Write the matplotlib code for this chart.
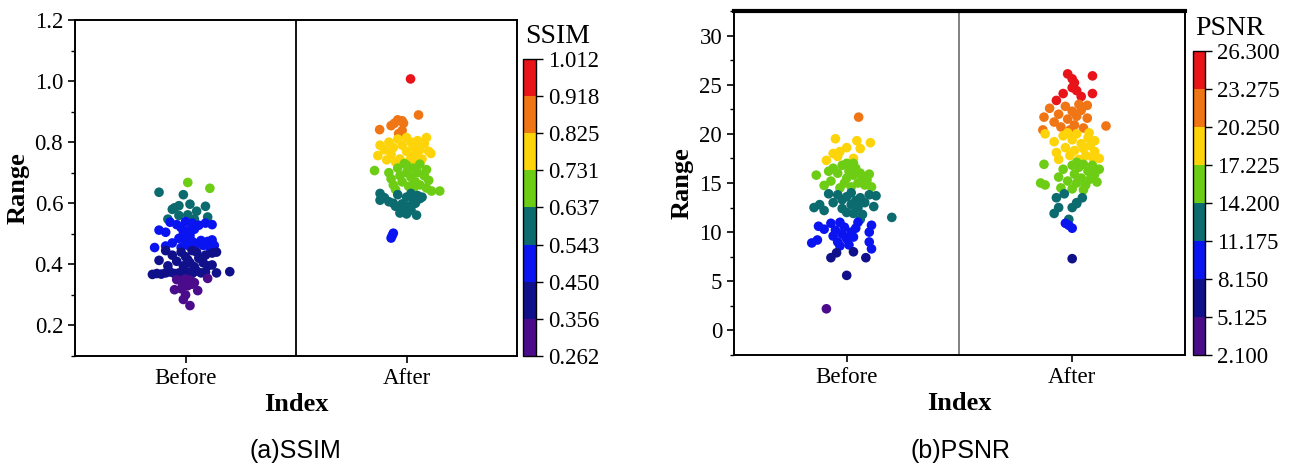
import numpy as np
import matplotlib
matplotlib.use("Agg")
import matplotlib.pyplot as plt
from matplotlib.colors import ListedColormap, BoundaryNorm

# 八段离散配色（紫 -> 红）
band_colors = ['#4b0c8c', '#10108a', '#0a14f0', '#0b6b6e',
               '#6ccd14', '#fdd40a', '#f07515', '#e8141a']
categories = ['Before', 'After']

# ---- SSIM 数据: (横向抖动, 数值) ----
ssim_before_off = [-0.12, 0.01, 0.11,
                   -0.01, -0.05, -0.03, 0.02, 0.05, 0.09, -0.08, -0.03, 0.01, 0.10, 0.04, -0.06,
                   -0.07, -0.12, -0.09, -0.04, 0.00, 0.03, 0.06, 0.09, 0.12, -0.02, 0.01, 0.04,
                   -0.01, 0.02, -0.03, 0.00, 0.03, 0.07, 0.10, 0.12, 0.08, 0.11, -0.14, -0.09,
                   -0.06, 0.00, 0.02, -0.02, 0.05, 0.12, 0.10, 0.13,
                   -0.15, -0.13, -0.11, -0.09, -0.07, -0.05, -0.03, -0.01, 0.01, 0.03, 0.05,
                   0.07, 0.09, 0.14, 0.20, -0.12, -0.08, -0.06, -0.04, -0.02, 0.00, 0.02, 0.04,
                   0.06, 0.08, 0.10, 0.12, 0.12, 0.09, 0.03, -0.01, 0.01, 0.05, 0.14, -0.09,
                   -0.04, -0.02, 0.00, 0.02, 0.04, 0.10, -0.05, -0.02, 0.01, 0.055, 0.00, -0.01,
                   0.02, 0.03]
ssim_before_val = [0.636, 0.668, 0.649,
                   0.628, 0.585, 0.592, 0.597, 0.574, 0.590, 0.548, 0.560, 0.562, 0.555, 0.548, 0.580,
                   0.538, 0.512, 0.505, 0.530, 0.540, 0.535, 0.528, 0.535, 0.530, 0.520, 0.510, 0.515,
                   0.500, 0.495, 0.485, 0.480, 0.475, 0.478, 0.475, 0.470, 0.462, 0.455, 0.455, 0.460,
                   0.470, 0.465, 0.458, 0.455, 0.468, 0.480, 0.465, 0.462,
                   0.367, 0.370, 0.368, 0.372, 0.375, 0.370, 0.372, 0.380, 0.375, 0.370, 0.378,
                   0.372, 0.375, 0.372, 0.376, 0.413, 0.395, 0.430, 0.410, 0.440, 0.425, 0.405, 0.392,
                   0.420, 0.405, 0.395, 0.398, 0.437, 0.430, 0.445, 0.395, 0.415, 0.440, 0.440, 0.445,
                   0.350, 0.345, 0.352, 0.348, 0.340, 0.354, 0.317, 0.320, 0.330, 0.314, 0.300, 0.285,
                   0.265, 0.335]

ssim_after_off = [0.018,
                  0.054, -0.122, -0.07, -0.055, -0.04, -0.02, -0.014, -0.036, -0.02,
                  -0.12, -0.13, -0.10, -0.08, -0.07, -0.06, -0.04, -0.03, -0.02, 0.00, 0.00, 0.02,
                  0.02, 0.03, 0.04, 0.05, 0.06, 0.07, 0.08, 0.09, 0.10, 0.11, -0.05, 0.04, -0.09, 0.01,
                  -0.145, -0.08, -0.07, -0.06, -0.04, -0.03, -0.02, 0.00, 0.00, 0.01, 0.02, 0.03,
                  0.04, 0.05, 0.06, 0.06, 0.08, 0.09, 0.10, 0.09, 0.113, 0.15, -0.05, 0.03, -0.01,
                  -0.12, -0.12, -0.10, -0.08, -0.06, -0.05, -0.03, -0.02, -0.01, 0.00, 0.01, 0.02,
                  0.03, 0.04, 0.05, 0.06, -0.04, 0.00, 0.045, -0.03, 0.02, 0.07,
                  -0.06, -0.07, -0.065]
ssim_after_val = [1.007,
                  0.889, 0.841, 0.854, 0.862, 0.873, 0.870, 0.862, 0.828, 0.838,
                  0.790, 0.756, 0.775, 0.800, 0.760, 0.782, 0.810, 0.745, 0.790, 0.770, 0.815, 0.800,
                  0.750, 0.785, 0.760, 0.805, 0.775, 0.745, 0.795, 0.815, 0.770, 0.763, 0.735, 0.738,
                  0.742, 0.735,
                  0.707, 0.700, 0.680, 0.660, 0.715, 0.690, 0.670, 0.725, 0.700, 0.655, 0.685, 0.715,
                  0.670, 0.700, 0.728, 0.660, 0.690, 0.710, 0.675, 0.650, 0.640, 0.640, 0.645, 0.645,
                  0.730,
                  0.632, 0.610, 0.618, 0.605, 0.600, 0.590, 0.585, 0.598, 0.575, 0.620, 0.590, 0.632,
                  0.612, 0.600, 0.625, 0.615, 0.628, 0.565, 0.561, 0.568, 0.578, 0.620,
                  0.502, 0.486, 0.494]

# ---- PSNR 数据 ----
psnr_before_off = [0.053,
                   -0.05, 0.00, -0.03, 0.045, 0.06, 0.105, -0.06, -0.09, -0.04, 0.03,
                   -0.135, -0.10, -0.07, -0.06, -0.04, -0.02, 0.00, 0.00, 0.01, 0.02, 0.03, 0.04,
                   0.05, 0.06, 0.07, 0.08, 0.09, 0.11, -0.03, 0.03, -0.08, 0.10, -0.01,
                   -0.145, -0.12, -0.10, -0.08, -0.06, -0.04, -0.02, -0.02, 0.00, 0.00, 0.02, 0.03,
                   0.04, 0.05, 0.06, 0.07, 0.08, 0.10, 0.12, 0.13, 0.20, 0.02, 0.06,
                   -0.125, -0.10, -0.155, -0.13, -0.07, -0.06, -0.05, -0.04, -0.03, -0.02, -0.01,
                   0.00, 0.01, 0.02, 0.03, 0.04, 0.05, 0.11, 0.10, 0.10, 0.11, -0.03,
                   -0.07, -0.045, 0.03, 0.085, 0.00,
                   -0.09]
psnr_before_val = [21.7,
                   19.5, 18.6, 18.2, 19.3, 18.5, 19.1, 18.0, 17.3, 17.7, 17.5,
                   15.8, 14.75, 15.2, 16.5, 16.0, 16.8, 17.0, 15.5, 16.2, 14.6, 15.8, 16.5,
                   15.0, 16.0, 15.5, 14.8, 15.3, 14.6, 14.5, 17.0, 16.2, 15.9, 15.0,
                   12.5, 12.8, 12.2, 13.9, 13.0, 13.8, 12.4, 13.3, 12.0, 13.6, 12.8, 11.9,
                   13.2, 12.5, 13.5, 11.8, 13.0, 13.8, 12.6, 13.7, 11.5, 14.0, 11.3,
                   10.6, 10.3, 8.9, 9.2, 10.9, 9.6, 10.2, 9.0, 11.0, 9.8, 10.5,
                   9.3, 8.7, 10.0, 9.5, 10.4, 11.0, 10.7, 10.0, 9.0, 8.3, 8.6,
                   7.4, 7.9, 8.0, 7.4, 5.6,
                   2.2]

psnr_after_off = [-0.02, 0.00, 0.09, 0.01, 0.00, 0.02, -0.04, 0.09, -0.07, 0.04,
                  -0.125, -0.13, -0.10, -0.08, -0.06, -0.05, -0.03, -0.02, 0.00, 0.01, 0.02, 0.03,
                  0.04, 0.05, 0.067, 0.067, 0.15, -0.01,
                  -0.12, -0.08, -0.07, -0.06, -0.04, -0.03, -0.01, 0.00, 0.01, 0.02, 0.03, 0.04,
                  0.05, 0.06, 0.07, 0.08, 0.09, 0.10, 0.12, 0.075, -0.02, 0.10,
                  -0.125, -0.14, -0.12, -0.06, -0.05, -0.04, -0.02, 0.00, 0.00, 0.01, 0.02, 0.03,
                  0.04, 0.05, 0.06, 0.07, 0.08, 0.09, 0.10, 0.12, 0.11, 0.02, 0.05,
                  -0.07, -0.035, 0.045, 0.02, -0.08, -0.06, 0.00, 0.02, -0.015,
                  -0.03, 0.00, -0.015,
                  0.00]
psnr_after_val = [26.1, 25.6, 25.9, 25.2, 24.7, 24.4, 24.1, 24.1, 23.4, 23.8,
                  21.7, 20.4, 22.6, 21.2, 22.0, 20.7, 22.8, 21.5, 22.3, 20.9, 21.8, 23.0,
                  22.4, 20.6, 22.9, 21.6, 20.8, 20.4,
                  20.0, 19.2, 18.1, 17.4, 19.8, 18.6, 17.8, 19.4, 18.3, 20.0, 17.4, 19.0,
                  18.5, 17.8, 19.6, 18.8, 17.6, 19.3, 17.5, 20.1, 20.1, 18.2,
                  16.9, 15.0, 14.8, 15.6, 14.5, 16.4, 15.2, 16.8, 14.4, 15.9, 15.0, 16.6,
                  15.5, 16.9, 14.8, 16.2, 15.4, 16.8, 15.9, 16.4, 15.1, 17.1, 14.3,
                  13.5, 13.9, 13.5, 13.0, 11.9, 12.5, 12.5, 12.9, 11.3,
                  10.9, 10.4, 10.7,
                  7.3]

ssim_bounds = [0.262, 0.356, 0.450, 0.543, 0.637, 0.731, 0.825, 0.918, 1.012]
ssim_labels = ['0.262', '0.356', '0.450', '0.543', '0.637', '0.731', '0.825', '0.918', '1.012']
psnr_bounds = [2.1, 5.125, 8.15, 11.175, 14.2, 17.225, 20.25, 23.275, 26.3]
psnr_labels = ['2.100', '5.125', '8.150', '11.175', '14.200', '17.225', '20.250', '23.275', '26.300']

plt.rcParams['font.family'] = ['Liberation Serif', 'DejaVu Serif']
cmap = ListedColormap(band_colors)

fig = plt.figure(figsize=(12.94, 4.70), dpi=100)


def draw_panel(ax_rect, cb_rect, before, after, bounds, labels, title, caption,
               cap_x, ylim, yticks, ymin, ylabels, thick_top, div_color):
    ax = fig.add_axes(ax_rect)
    norm = BoundaryNorm(bounds, cmap.N)
    for i, (off, val) in enumerate([before, after]):
        x = i + np.array(off)
        sc = ax.scatter(x, val, c=val, cmap=cmap, norm=norm, s=48,
                        edgecolors='none', zorder=3)
    ax.axvline(0.5, color=div_color, lw=1.3)
    ax.set_xlim(-0.5, 1.5)
    ax.set_ylim(*ylim)
    ax.set_xticks([0, 1])
    ax.set_xticklabels(categories)
    ax.set_yticks(yticks)
    ax.set_yticklabels(ylabels)
    ax.set_yticks(ymin, minor=True)
    ax.tick_params(axis='both', which='major', direction='out', length=5,
                   width=1.2, labelsize=16.5)
    ax.tick_params(axis='y', which='minor', direction='out', length=3, width=1.0)
    for s in ax.spines.values():
        s.set_linewidth(1.4)
    if thick_top:
        ax.spines['top'].set_linewidth(3)
    ax.set_ylabel('Range', fontsize=19, fontweight='bold', labelpad=4)
    ax.set_xlabel('Index', fontsize=19, fontweight='bold', labelpad=3)

    cax = fig.add_axes(cb_rect)
    cb = fig.colorbar(sc, cax=cax, ticks=bounds, spacing='uniform')
    cb.ax.set_yticklabels(labels)
    cb.ax.tick_params(labelsize=16.5, length=5, width=1.0)
    cb.outline.set_linewidth(1.0)
    fig.text(cb_rect[0] + 0.002, cb_rect[1] + cb_rect[3] + 0.022, title,
             fontsize=20, ha='left', va='bottom')
    fig.text(cap_x, 0.04, caption, fontsize=18, ha='center', va='center',
             family=['Liberation Sans', 'DejaVu Sans'])
    return ax


draw_panel([0.058, 0.2426, 0.3416, 0.7149], [0.4042, 0.2426, 0.0100, 0.6319],
           (ssim_before_off, ssim_before_val), (ssim_after_off, ssim_after_val),
           ssim_bounds, ssim_labels, 'SSIM', '(a)SSIM', 0.228,
           (0.1, 1.2), [0.2, 0.4, 0.6, 0.8, 1.0, 1.2],
           [0.1, 0.3, 0.5, 0.7, 0.9, 1.1],
           ['0.2', '0.4', '0.6', '0.8', '1.0', '1.2'], False, 'black')

draw_panel([0.5672, 0.2447, 0.3485, 0.7319], [0.9219, 0.2447, 0.0093, 0.6468],
           (psnr_before_off, psnr_before_val), (psnr_after_off, psnr_after_val),
           psnr_bounds, psnr_labels, 'PSNR', '(b)PSNR', 0.742,
           (-2.5, 32.5), [0, 5, 10, 15, 20, 25, 30],
           [-2.5, 2.5, 7.5, 12.5, 17.5, 22.5, 27.5, 32.5],
           ['0', '5', '10', '15', '20', '25', '30'], True, '#777777')

fig.savefig('out.png', dpi=100)
